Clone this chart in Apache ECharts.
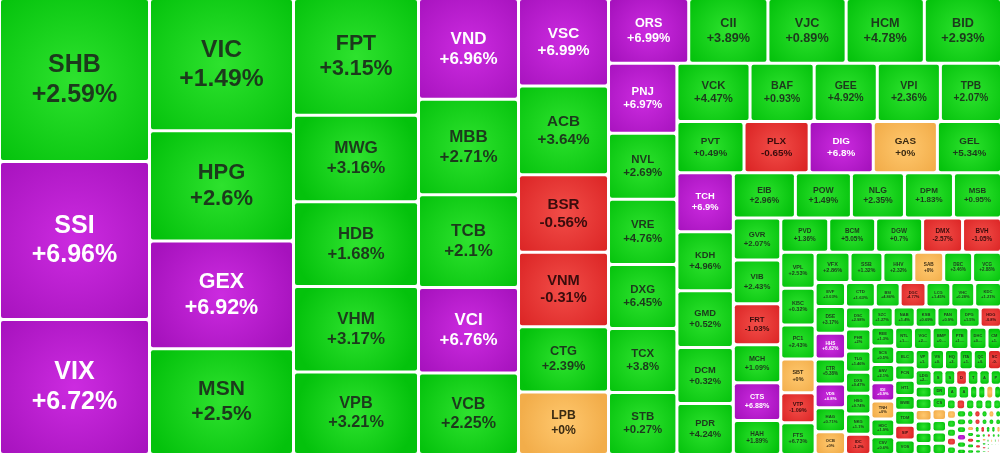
<!DOCTYPE html>
<html><head><meta charset="utf-8">
<script src="https://cdn.jsdelivr.net/npm/echarts@6/dist/echarts.min.js"></script>
<style>html,body{margin:0;padding:0;background:#fff}#c{width:1000px;height:453px}</style>
</head><body><div id="c"></div>
<script>
// Tickers in layout order
const names = ["SHB","SSI","VIX","VIC","HPG","GEX","MSN","FPT","MWG","HDB","VHM","VPB","VND","MBB","TCB","VCI","VCB","VSC","ACB","BSR","VNM","CTG","LPB",
"ORS","CII","VJC","HCM","BID",
"PNJ","NVL","VRE","DXG","TCX","STB",
"VCK","BAF","GEE","VPI","TPB",
"PVT","PLX","DIG","GAS","GEL",
"TCH","KDH","GMD","DCM","PDR",
"EIB","POW","NLG","DPM","MSB",
"GVR","VIB","FRT","MCH","CTS","HAH",
"PVD","BCM","DGW","DMX","BVH",
"VPL","KBC","PC1","SBT","VTP","FTS",
"VFX","SSB","HHV","SAB","DBC","VCG",
"EVF","DSE","HHS","CTR","VDS","HAG","OCB",
"CTD","BSI","DGC","LCG","VHC","KDC",
"DSC","PHR","TLG","DXS","HSG","NKG","IDC",
"SZC","NAB","KSB","PAN","DPG","HDG",
"REE","SCS","ANV","IDI","TNH","HDC","CSV","NTL","VGC","BMP","PTB","DHC",
"CMG","ELC","FCN","HT1","BWE","TDM","SIP","VOS","VPG","VSH","HQC","ITA","QCG","SCR","LDG",
"HBC","CRE","TDC","TIP","NBB","HAX","SJS","SKG","DHA","TV2","ASM","PET","DRC","CSM","SMC","TLH","HPX","HVN","AAA","APH",
"BFC","LSS","CTI","DLG","FIT","GIL","HAP","JVC","KHG","MSH","NAF","OGC","PSH","QBS","SGR","SVD","TCL","TTF","VPH","YEG",
"ABS","BCG","CCL","DAH","EVG","FIR","HCD","HTN","IJC","KOS","LHG","MIG","NHA","PIT","RDP","SGT","ST8","TDP","TNI","TVB","VCA","VMD","ADS","AST","BIC",
"CLC","DBT","DTL","FMC","HAR","HII","HUB","L10","LGL","NAV","PGC","SAM","SFG","TCM","TDH","TYA","VIP","ACL","BBC","CIG","DTT","GMH",
"HRC","KPF","LBM","MDG","NVT","PMG","SRC","TMT","VAF","VNL","CDC","TPC"];
// Traded value weights (read from tile areas)
const values = [24300,23550,20100,18936,15768,15408,15120,14500,10750,10500,10625,10250,10000,9500,9200,8500,8100,7830,7920,6930,6660,5850,5580,
5160,5095,5030,5030,4965,
4760,4488,4420,4352,4350,4216,
4234,3712,3654,3654,3538,
3417,3315,3264,3264,3264,
3304,3304,3192,3136,2856,
2790,2520,2385,2205,2160,
1974,2068,1927,1786,1786,1598,
1632,1598,1598,1360,1326,
1224,1258,1156,1156,1020,1088,
1050,990,930,900,870,870,
720,810,780,750,720,720,690,
720,600,624,600,576,648,
560,550,540,530,520,515,510,
450,445,440,438,435,432,
440,436,432,428,425,422,418,415,412,408,404,400,
320,316,312,308,305,302,300,298,295,292,290,287,284,281,278,
195,193,191,189,187,185,183,181,179,177,175,173,171,169,167,165,163,161,159,157,
112,110,108,106,104,102,100,98,96,94,92,90,88,86,84,82,80,78,76,74,
62,60,59,58,56,55,54,52,51,50,49,48,47,46,45,44,43,42,41,40,39,38,37,36,35,
28,27,26,25,24,23,22,21,20,19,18,17,16,15,14,13,12,11,10,9,8,7,
6,5,5,4,4,3,3,3,2,2,2,1];
const changes = ["+2.59%","+6.96%","+6.72%","+1.49%","+2.6%","+6.92%","+2.5%","+3.15%","+3.16%","+1.68%","+3.17%","+3.21%","+6.96%","+2.71%","+2.1%","+6.76%","+2.25%","+6.99%","+3.64%","-0.56%","-0.31%","+2.39%","+0%",
"+6.99%","+3.89%","+0.89%","+4.78%","+2.93%",
"+6.97%","+2.69%","+4.76%","+6.45%","+3.8%","+0.27%",
"+4.47%","+0.93%","+4.92%","+2.36%","+2.07%",
"+0.49%","-0.65%","+6.8%","+0%","+5.34%",
"+6.9%","+4.96%","+0.52%","+0.32%","+4.24%",
"+2.96%","+1.49%","+2.35%","+1.83%","+0.95%",
"+2.07%","+2.43%","-1.03%","+1.09%","+6.88%","+1.89%",
"+1.36%","+5.05%","+0.7%","-2.57%","-1.05%",
"+2.53%","+0.32%","+2.43%","+0%","-1.09%","+6.73%",
"+2.86%","+1.32%","+2.32%","+0%","+3.46%","+2.88%",
"+3.03%","+3.17%","+6.62%","+5.38%","+6.8%","+0.71%","+0%",
"+1.63%","+4.86%","-4.77%","+1.45%","+0.28%","+1.21%",
"+2.98%","+2%","+1.46%","+0.47%","+0.74%","+1.1%","-1.2%",
"+1.27%","+1.4%","+0.69%","+0.9%","+1.5%","-0.8%",
"+1.3%","+0.5%","+2.1%","+6.9%","+0%","+1.9%","+0.6%","+1.2%","+2.4%","+0.4%","+1.7%","+0.9%",
"+1.1%","+2.2%","+0.8%","+1.4%","+0.3%","+0.6%","-0.9%","+2.7%","+1.8%","+0.5%","+3.1%","+1.6%","+0.7%","-0.6%","+2.3%",
"+1.2%","+0.9%","+0%","+1.5%","+2.6%","+0.4%","+1.1%","+0.8%","-0.5%","+1.9%","+2.2%","+1.3%","+0.6%","+1%","+0%","+2.8%","+1.7%","+0.2%","+1.4%","+0.9%",
"+0.7%","+1.2%","+0%","+2.5%","+0.6%","-1.4%","+1.8%","+0.5%","+2.1%","+0.3%","+0%","+1.6%","+0.8%","-2.1%","+1.3%","+0.4%","+0.9%","+1.1%","+6.9%","+2.4%",
"+1.5%","+0.6%","-0.7%","+1.2%","+0%","+0.8%","+1.9%","-1.1%","+0.4%","+0.7%","+1.3%","+0%","+2.2%","-0.9%","+0.5%","+1.7%","+0.3%","-1.6%","+1%","+0.6%","+0%","+1.4%","+0.9%","-0.4%","+1.2%",
"+0.8%","-1.3%","+0.5%","+1.1%","+0%","+0.6%","-0.8%","+1.7%","+0.4%","+0%","+0.9%","-0.5%","+1.3%","+0.7%","-1.9%","+0.2%","+1%","+0.6%","+0%","-0.7%","+0.5%","+0.3%",
"+0.4%","+0%","-0.6%","+0.8%","+0.2%","+0.5%","-1.2%","+0.3%","+0.9%","+0%","+0.4%","+0.6%"];
const ceilingStocks = ["SSI","VIX","GEX","VND","VCI","VSC","ORS","PNJ","TCH","DIG","CTS","HHS","VDS","IDI","VPH"];
// how many tickers each nesting level holds (grouping of the treemap)
const groupSizes = [23,5,6,5,5,5,5,6,5,6,6,7,6,7,6];

const palette = {
  up:   {c0:'#2ee22e', c1:'#04c20c', text:'#1c3a1c'},
  ceil: {c0:'#cc2be0', c1:'#a612bd', text:'#ffffff'},
  down: {c0:'#f24d48', c1:'#dc2626', text:'#3a0c0c'},
  ref:  {c0:'#ffc86e', c1:'#f2ad4a', text:'#3a2a12'}
};
function kindOf(i){
  if (ceilingStocks.indexOf(names[i]) >= 0) return 'ceil';
  if (changes[i] === '+0%') return 'ref';
  if (changes[i].charAt(0) === '-') return 'down';
  return 'up';
}
const leaves = {};
function leaf(i){
  const p = palette[kindOf(i)];
  const fs = Math.max(4, Math.min(25, 0.16 * Math.sqrt(values[i])));
  const d = {
    name: names[i], value: values[i], change: changes[i],
    itemStyle: {color: {type:'radial', x:0.5, y:0.5, r:0.75, colorStops:[{offset:0,color:p.c0},{offset:1,color:p.c1}]}},
    label: {color: p.text, fontSize: fs, lineHeight: fs*1.18}
  };
  leaves[names[i]] = d;
  return d;
}
let idx = 0;
const groups = groupSizes.map(function(n){ const a = []; for (let k = 0; k < n; k++) a.push(leaf(idx++)); return a; });
let current = [];
while (idx < names.length) current.push(leaf(idx++));
for (let s = groups.length - 1; s >= 0; s--) {
  current = groups[s].concat([{name: 'grp' + s, children: current}]);
}
const data = current;

const chart = echarts.init(document.getElementById('c'), null, {renderer:'canvas'});
const option = {
  animation: false,
  series: [{
    type: 'treemap', left: 1, top: 0, right: 0, bottom: 0,
    roam: false, nodeClick: false, sort: false, squareRatio: 1.25,
    breadcrumb: {show: false},
    visibleMin: 0,
    itemStyle: {borderWidth: 0, gapWidth: 3, borderColor: '#fff', borderRadius: 2},
    upperLabel: {show: false},
    label: {
      show: true, position: 'inside', padding: 2,
      fontFamily: '"Liberation Sans", Arial, sans-serif', fontWeight: 'bold',
      overflow: 'truncate', ellipsis: '...',
      formatter: function(p){ return p.name + '\n' + (p.data && p.data.change ? p.data.change : ''); }
    },
    data: data
  }]
};
chart.setOption(option);
try {
  const sm = chart.getModel().getSeriesByIndex(0);
  const root = sm.getData().tree.root;
  const walk = function(nd){
    if (nd.children && nd.children.length) { nd.children.forEach(walk); return; }
    const l = nd.getLayout(); const d = leaves[nd.name];
    if (l && d) {
      const fs = Math.max(4, Math.min(25, 0.175 * l.width, 0.205 * l.height));
      d.label.fontSize = fs; d.label.lineHeight = fs * 1.18;
    }
  };
  walk(root);
  chart.setOption({series: [{data: data}]});
} catch (e) { console.log(e); }
</script>
</body></html>
